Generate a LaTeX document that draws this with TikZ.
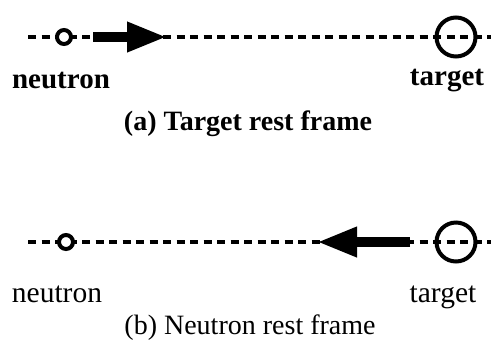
\documentclass[tikz,border=0pt]{standalone}
\usepackage{fontspec}
\setmainfont{Liberation Serif}
\usetikzlibrary{arrows.meta}
\tikzset{
  dashline/.style={line width=3.5pt, dash pattern=on 8pt off 5.5pt},
  smallball/.style={circle, draw, line width=4pt, fill=white, minimum size=14pt, inner sep=0pt},
  bigball/.style={circle, draw, line width=4pt, minimum size=39pt, inner sep=0pt},
  bigarrow/.style={line width=9.5pt, -{Triangle[length=40pt,width=28pt]}},
  lblbold/.style={font=\fontsize{29}{32}\selectfont\bfseries, inner sep=0pt},
  capbold/.style={font=\fontsize{28}{31}\selectfont\bfseries, inner sep=0pt},
  lblreg/.style={font=\fontsize{29.5}{32}\selectfont, inner sep=0pt},
  capreg/.style={font=\fontsize{28}{31}\selectfont, inner sep=0pt}
}
\begin{document}
\begin{tikzpicture}[x=1pt,y=-1pt]
\useasboundingbox (0,0) rectangle (494,360);
% (a)
\coordinate (aL) at (28,37);
\coordinate (aR) at (491,37);
\draw[dashline] (aL) -- (aR);
\node[smallball] (an) at (64,37) {};
\node[bigball] (at) at (456,37) {};
\coordinate (aS) at (93,37);
\coordinate (aE) at (167,37);
\draw[bigarrow] (aS) -- (aE);
\node[lblbold] (anl) at (61,81) {neutron};
\node[lblbold] (atl) at (447,81) {target};
\node[capbold] (acap) at (248,124) {(a) Target rest frame};
% (b)
\coordinate (bL) at (28,242);
\coordinate (bR) at (491,242);
\draw[dashline] (bL) -- (bR);
\node[smallball] (bn) at (66,242) {};
\node[bigball] (bt) at (456,242) {};
\coordinate (bS) at (410,242);
\coordinate (bE) at (317,242);
\draw[bigarrow] (bS) -- (bE);
\node[lblreg] (bnl) at (57,294) {neutron};
\node[lblreg] (btl) at (443,297) {target};
\node[capreg] (bcap) at (250,328) {(b) Neutron rest frame};
\end{tikzpicture}
\end{document}
